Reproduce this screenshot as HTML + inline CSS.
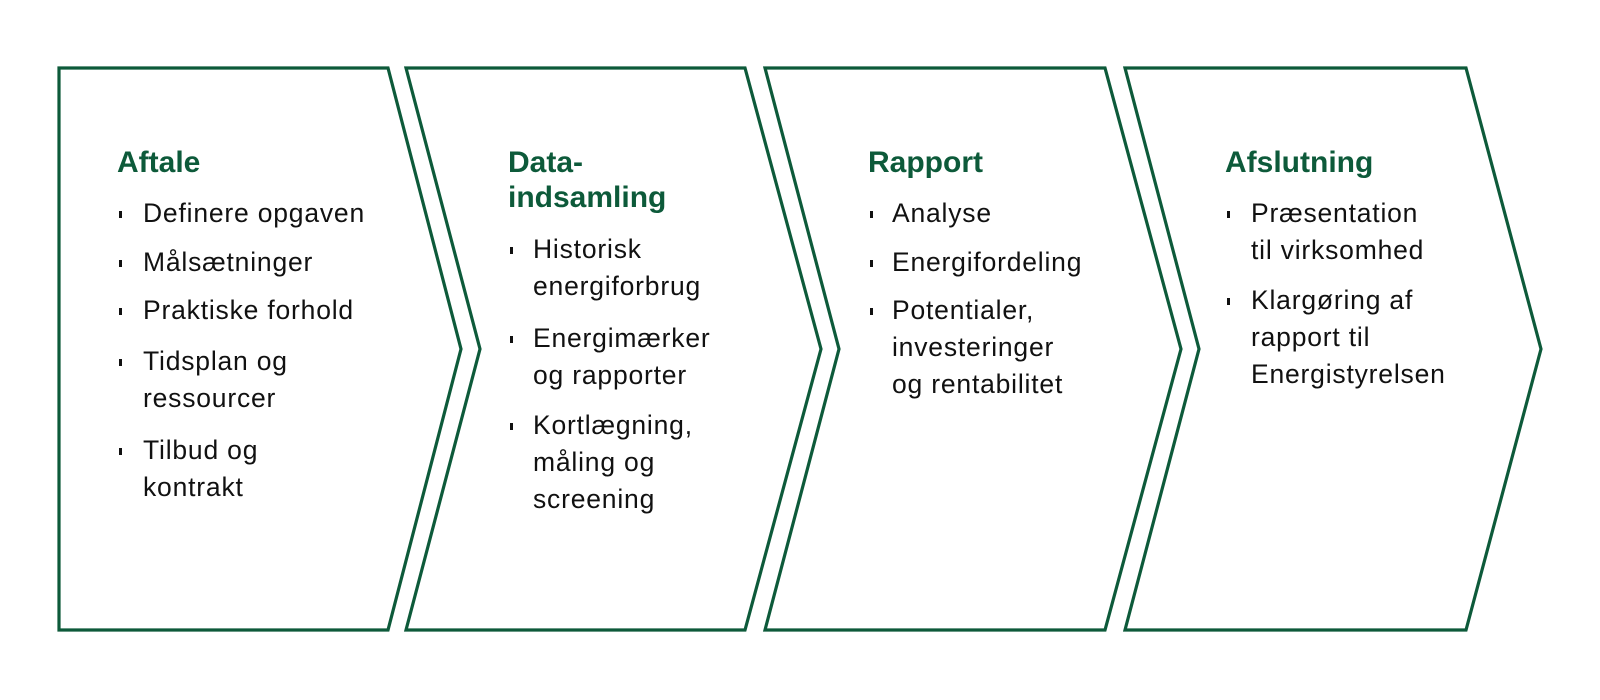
<!DOCTYPE html>
<html><head><meta charset="utf-8"><style>
body{margin:0;background:#fff;width:1600px;height:700px;position:relative;overflow:hidden;font-family:"Liberation Sans",sans-serif}
.t{position:absolute;color:#0d5a3a;font-weight:bold;font-size:30px;line-height:35px;white-space:nowrap}
.i{position:absolute;color:#111;font-size:26.5px;line-height:37px;white-space:nowrap;letter-spacing:0.8px}
.b{position:absolute;width:3px;height:7px;background:#111}
</style></head><body>
<svg width="1600" height="700" style="position:absolute;left:0;top:0">
<g fill="none" stroke="#0d5a3a" stroke-width="3.2">
<polygon points="59,68 388,68 461,349 388,630 59,630"/>
<polygon points="406,68 745,68 821,349 745,630 406,630 480,349"/>
<polygon points="765,68 1105,68 1181,349 1105,630 765,630 839,349"/>
<polygon points="1125,68 1466,68 1541,349 1466,630 1125,630 1199,349"/>
</g></svg>

<div class="t" style="left:117px;top:145px">Aftale</div>
<div class="b" style="left:119px;top:211px"></div><div class="i" style="left:143px;top:195px">Definere opgaven</div>
<div class="b" style="left:119px;top:260px"></div><div class="i" style="left:143px;top:244px">Målsætninger</div>
<div class="b" style="left:119px;top:308px"></div><div class="i" style="left:143px;top:292px">Praktiske forhold</div>
<div class="b" style="left:119px;top:359px"></div><div class="i" style="left:143px;top:343px">Tidsplan og<br>ressourcer</div>
<div class="b" style="left:119px;top:448px"></div><div class="i" style="left:143px;top:432px">Tilbud og<br>kontrakt</div>

<div class="t" style="left:508px;top:145px">Data-<br>indsamling</div>
<div class="b" style="left:510px;top:247px"></div><div class="i" style="left:533px;top:231px">Historisk<br>energiforbrug</div>
<div class="b" style="left:510px;top:336px"></div><div class="i" style="left:533px;top:320px">Energimærker<br>og rapporter</div>
<div class="b" style="left:510px;top:423px"></div><div class="i" style="left:533px;top:407px">Kortlægning,<br>måling og<br>screening</div>

<div class="t" style="left:868px;top:145px">Rapport</div>
<div class="b" style="left:870px;top:211px"></div><div class="i" style="left:892px;top:195px">Analyse</div>
<div class="b" style="left:870px;top:260px"></div><div class="i" style="left:892px;top:244px">Energifordeling</div>
<div class="b" style="left:870px;top:308px"></div><div class="i" style="left:892px;top:292px">Potentialer,<br>investeringer<br>og rentabilitet</div>

<div class="t" style="left:1225px;top:145px">Afslutning</div>
<div class="b" style="left:1227px;top:211px"></div><div class="i" style="left:1251px;top:195px">Præsentation<br>til virksomhed</div>
<div class="b" style="left:1227px;top:298px"></div><div class="i" style="left:1251px;top:282px">Klargøring af<br>rapport til<br>Energistyrelsen</div>
</body></html>
